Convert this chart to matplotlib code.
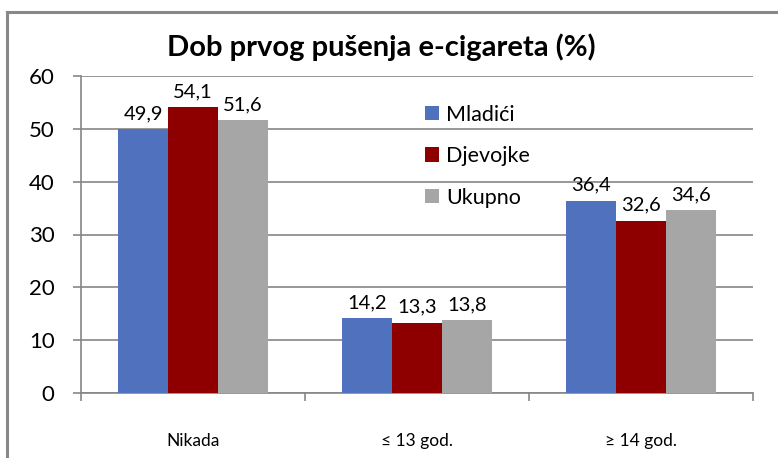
import numpy as np
import matplotlib
matplotlib.use("Agg")
import matplotlib.pyplot as plt
from matplotlib.lines import Line2D

plt.rcParams['font.family'] = ['Lato', 'DejaVu Sans']

categories = ["Nikada", "≤ 13 god.", "≥ 14 god."]
series_names = ["Mladići", "Djevojke", "Ukupno"]
mladici = [49.9, 14.2, 36.4]
djevojke = [54.1, 13.3, 32.6]
ukupno = [51.6, 13.8, 34.6]
labels_mladici = ["49,9", "14,2", "36,4"]
labels_djevojke = ["54,1", "13,3", "32,6"]
labels_ukupno = ["51,6", "13,8", "34,6"]
yticks = [0, 10, 20, 30, 40, 50, 60]

colors = ["#4F71BE", "#8E0000", "#A6A6A6"]
grid_col = "#868686"

fig = plt.figure(figsize=(7.78, 4.58), dpi=100)
# outer chart border (only top/left visible, picture is cropped)
fig.add_artist(Line2D([7 / 778, 1.0], [1 - 12 / 458] * 2, color="#888888", lw=2.2,
                      transform=fig.transFigure))
fig.add_artist(Line2D([7 / 778] * 2, [0.0, 1 - 12 / 458], color="#888888", lw=2.2,
                      transform=fig.transFigure))

ax = fig.add_axes([81 / 778, 1 - 393 / 458, 672 / 778, 317 / 458])

x = np.arange(len(categories))
width = 0.223
all_vals = [mladici, djevojke, ukupno]
all_labels = [labels_mladici, labels_djevojke, labels_ukupno]
for i in range(3):
    pos = x + (i - 1) * width
    bars = ax.bar(pos, all_vals[i], width, color=colors[i], label=series_names[i], zorder=3)
    for b, txt in zip(bars, all_labels[i]):
        ax.annotate(txt, (b.get_x() + b.get_width() / 2, b.get_height()),
                    xytext=(0, 5), textcoords="offset points", ha="center", va="bottom",
                    fontsize=14.5, zorder=4)

ax.set_xlim(-0.5, 2.5)
ax.set_ylim(0, 60)
ax.set_yticks(yticks)
ax.set_yticklabels([str(v) for v in yticks], fontsize=16)
ax.set_xticks(x)
ax.set_xticklabels(categories, fontsize=12.5)
ax.set_xticks([-0.5, 0.5, 1.5, 2.5], minor=True)
ax.tick_params(axis="x", which="major", length=0, pad=29)
ax.tick_params(axis="x", which="minor", length=6, color=grid_col, width=1.2)
ax.tick_params(axis="y", length=6, color=grid_col, width=1.2, pad=13)
ax.grid(axis="y", color=grid_col, lw=1.2, zorder=0)
for s in ["top", "right"]:
    ax.spines[s].set_visible(False)
for s in ["left", "bottom"]:
    ax.spines[s].set_color(grid_col)
    ax.spines[s].set_linewidth(1.2)

fig.text(0.49, 1 - 47 / 458, "Dob prvog pušenja e-cigareta (%)", ha="center", va="center",
         fontsize=21, fontweight="bold")

ax.legend(loc="upper left", bbox_to_anchor=(416 / 778, 1 - 96 / 458),
          bbox_transform=fig.transFigure, frameon=False, fontsize=15.5,
          handlelength=0.65, handleheight=0.65, handletextpad=0.35, labelspacing=1.0,
          borderaxespad=0)

fig.savefig("out.png", dpi=100)
